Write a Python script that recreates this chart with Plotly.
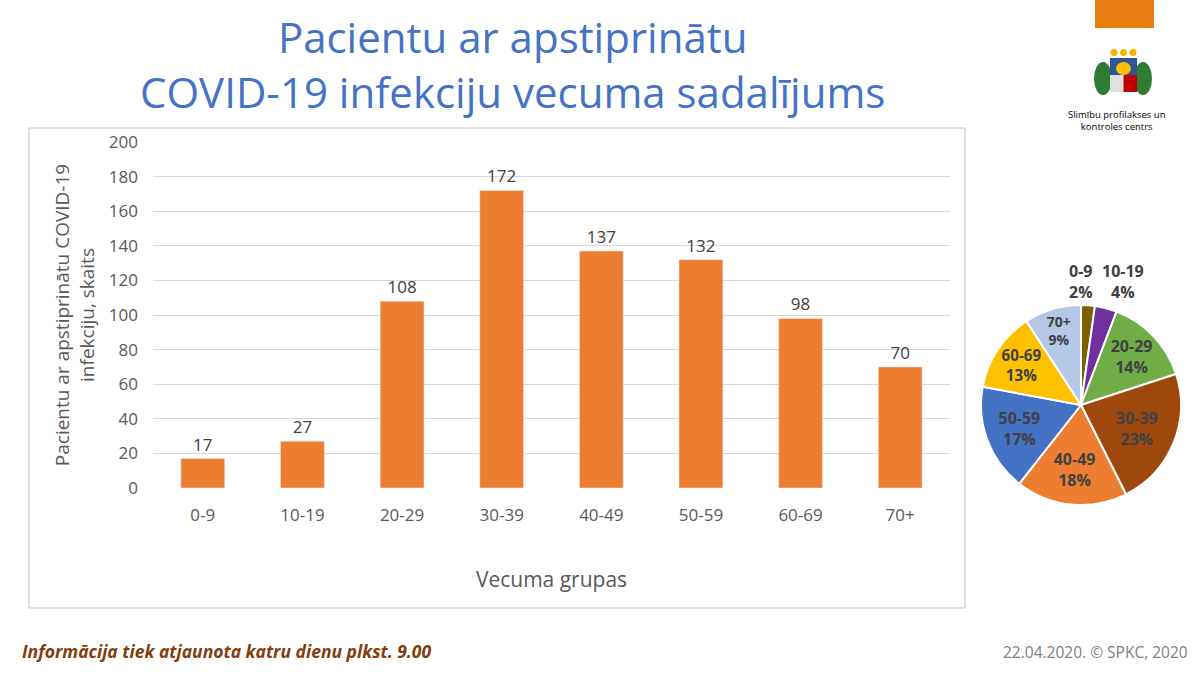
import plotly.graph_objects as go

# data
age_groups = ["0-9", "10-19", "20-29", "30-39", "40-49", "50-59", "60-69", "70+"]
patients = [17, 27, 108, 172, 137, 132, 98, 70]
pie_colors = ["#7F6000", "#7030A0", "#70AD47", "#9E480E",
              "#ED7D31", "#4472C4", "#FFC000", "#B4C7E7"]
# the two thin slices get their labels above the pie, like in the slide
pie_textpos = ["none", "none", "inside", "inside",
               "inside", "inside", "inside", "inside"]
y_ticks = [0, 20, 40, 60, 80, 100, 120, 140, 160, 180, 200]

W, H = 1200, 675
FONT = "Open Sans"


def px(x):
    return x / W


def py(y):
    return 1 - y / H


total = sum(patients)
shares = [round(100 * v / total) for v in patients]

fig = go.Figure()

fig.add_trace(go.Bar(
    x=age_groups,
    y=patients,
    marker_color="#ED7D31",
    text=patients,
    textposition="outside",
    textfont=dict(size=17, color="#404040", family=FONT),
    cliponaxis=False,
    showlegend=False,
))

fig.add_trace(go.Pie(
    labels=age_groups,
    values=patients,
    sort=False,
    direction="clockwise",
    rotation=0,
    marker=dict(colors=pie_colors, line=dict(color="white", width=2)),
    texttemplate="<b>%{label}<br>%{percent:.0%}</b>",
    textposition=pie_textpos,
    insidetextorientation="horizontal",
    textfont=dict(size=16, color="#404040", family=FONT),
    domain=dict(x=[px(981), px(1181)], y=[py(505), py(305)]),
    showlegend=False,
))

fig.update_layout(
    width=W, height=H,
    margin=dict(l=0, r=0, t=0, b=0),
    paper_bgcolor="white",
    plot_bgcolor="white",
    font=dict(family=FONT, color="#595959"),
    bargap=0.56,
    xaxis=dict(
        domain=[px(153), px(950)],
        tickfont=dict(size=17, color="#595959"),
        ticklabelstandoff=15,
        showline=False,
        title=dict(text="Vecuma grupas", font=dict(size=21, color="#595959"),
                   standoff=47),
        automargin=False,
    ),
    yaxis=dict(
        domain=[py(488), py(142)],
        range=[0, 200],
        tickvals=y_ticks,
        tickfont=dict(size=17, color="#595959"),
        ticklabelstandoff=14,
        showgrid=True,
        gridcolor="#D9D9D9",
        gridwidth=1,
        zeroline=False,
        title=dict(text="Pacientu ar apstiprinātu COVID-19<br>infekciju, skaits",
                   font=dict(size=19, color="#595959"), standoff=9),
        automargin=False,
    ),
)

# chart frame
fig.add_shape(type="rect", xref="paper", yref="paper",
              x0=px(29), x1=px(965), y0=py(608), y1=py(128),
              line=dict(color="#BFBFBF", width=1), layer="below")

# pie labels for the two small slices
fig.add_annotation(
    text=f"<b>{age_groups[0]}<br>{shares[0]}%</b>",
    xref="paper", yref="paper", x=px(1081), y=py(281),
    xanchor="center", yanchor="middle", showarrow=False,
    font=dict(size=16, color="#404040", family=FONT),
)
fig.add_annotation(
    text=f"<b>{age_groups[1]}<br>{shares[1]}%</b>",
    xref="paper", yref="paper", x=px(1123), y=py(281),
    xanchor="center", yanchor="middle", showarrow=False,
    font=dict(size=16, color="#404040", family=FONT),
)

# title
fig.add_annotation(
    text="Pacientu ar apstiprinātu<br>COVID-19 infekciju vecuma sadalījums",
    xref="paper", yref="paper", x=px(512), y=py(64),
    xanchor="center", yanchor="middle", showarrow=False,
    font=dict(size=42, color="#4472C4", family=FONT),
)

# footer
fig.add_annotation(
    text="<b><i>Informācija tiek atjaunota katru dienu plkst. 9.00</i></b>",
    xref="paper", yref="paper", x=px(20), y=py(651),
    xanchor="left", yanchor="middle", showarrow=False,
    font=dict(size=17.5, color="#843C0C", family=FONT),
)
fig.add_annotation(
    text="22.04.2020. © SPKC, 2020",
    xref="paper", yref="paper", x=px(1190), y=py(652),
    xanchor="right", yanchor="middle", showarrow=False,
    font=dict(size=15.5, color="#7F7F7F", family=FONT),
)

# logo block
fig.add_shape(type="rect", xref="paper", yref="paper",
              x0=px(1095), x1=px(1154), y0=py(28), y1=py(0),
              fillcolor="#E87D12", line=dict(width=0))
# rough emblem: leaves, shield, sun, stars
for cx in (1103, 1143):
    fig.add_shape(type="circle", xref="paper", yref="paper",
                  x0=px(cx - 9), x1=px(cx + 9), y0=py(95), y1=py(62),
                  fillcolor="#2E7D32", line=dict(width=0))
fig.add_shape(type="rect", xref="paper", yref="paper",
              x0=px(1110), x1=px(1137), y0=py(75), y1=py(58),
              fillcolor="#2F5597", line=dict(width=0))
fig.add_shape(type="circle", xref="paper", yref="paper",
              x0=px(1116), x1=px(1131), y0=py(75), y1=py(62),
              fillcolor="#FFC000", line=dict(width=0))
fig.add_shape(type="rect", xref="paper", yref="paper",
              x0=px(1110), x1=px(1123.5), y0=py(92), y1=py(75),
              fillcolor="#E0E0E0", line=dict(width=0))
fig.add_shape(type="rect", xref="paper", yref="paper",
              x0=px(1123.5), x1=px(1137), y0=py(92), y1=py(75),
              fillcolor="#C00000", line=dict(width=0))
for sx in (1114, 1123.5, 1133):
    fig.add_shape(type="circle", xref="paper", yref="paper",
                  x0=px(sx - 3.5), x1=px(sx + 3.5), y0=py(56), y1=py(49),
                  fillcolor="#F4B400", line=dict(width=0))
fig.add_annotation(
    text="Slimību profilakses un<br>kontroles centrs",
    xref="paper", yref="paper", x=px(1117), y=py(121),
    xanchor="center", yanchor="middle", showarrow=False,
    font=dict(size=9.5, color="#000000", family=FONT),
)

# drop the browser's default body margin so the figure sits at 0,0
fig.write_html("out.html", config={"displayModeBar": False},
               post_script="document.body.style.margin = '0';")
